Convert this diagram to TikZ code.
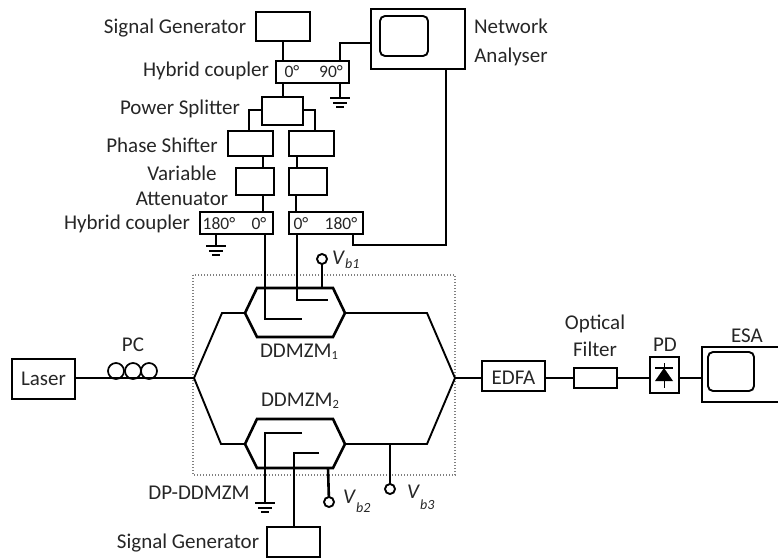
\documentclass[tikz,border=0pt]{standalone}
\usepackage{fontspec}
\usepackage{xcolor}
\usetikzlibrary{calc,positioning}
\setmainfont{Carlito}
\definecolor{dmInk}{HTML}{262626}
\newcommand{\vbias}[2]{\textit{V}\raisebox{#1}{\fontsize{14}{14}\selectfont\textit{#2}}}
\newcommand{\sbnum}[1]{\raisebox{-2.5pt}{\fontsize{12.5}{12.5}\selectfont #1}}
\tikzset{
  lbl/.style={text=dmInk, font=\fontsize{21}{24}\selectfont, inner sep=0pt},
  deg/.style={text=dmInk, font=\fontsize{17.5}{20}\selectfont, inner sep=0pt},
  devbox/.style={draw=black, line width=1.9pt, fill=white, inner sep=0pt, outer sep=0pt},
  wire/.style={draw=black, line width=2.6pt, line join=miter},
  thinwire/.style={draw=black, line width=1.7pt, line join=miter},
  port/.style={circle, draw=black, line width=1.9pt, fill=white, minimum size=10pt, inner sep=0pt, outer sep=0pt},
  gnd/.pic={
    \draw[line width=1.7pt] (-10,0) -- (10,0);
    \draw[line width=1.7pt] (-7,5) -- (7,5);
    \draw[line width=1.7pt] (-4,9) -- (4,9);
  }
}

\begin{document}
\begin{tikzpicture}[x=1pt,y=-1pt]
  \useasboundingbox (0,0) rectangle (778,559);
  % enclosure of the dual-parallel modulator
  \draw[dash pattern=on 1.2pt off 1.8pt, line width=1.2pt, draw=black!50] (193,275) rectangle (455,475);
  % boxes
  \foreach \n/\x/\y/\w/\h in {
    sgtop/283/26.5/54/29,
    hybtop/312.5/72/73/22,
    split/282.5/111/41/28,
    phsL/250.5/143.5/45/25,
    phsR/311.5/143.5/45/25,
    attL/255/181.5/38/27,
    attR/308/181.5/38/27,
    hybL/236.5/223/73/22,
    hybR/326/223/74/22,
    sgbot/293.5/542/53/30,
    na/418/39/94/60,
    laser/43.5/379/63/40,
    edfa/513.5/376/63/30,
    ofil/595.5/378/43/20,
    pd/664.5/375/29/36
  } {
    \node[devbox, minimum width=\w pt, minimum height=\h pt] (\n) at (\x,\y) {};
  }
  % screens of the two analysers
  \node[devbox, rounded corners=5pt, minimum width=48pt, minimum height=40pt] (nascr) at (404,36) {};
  % ESA runs off the right edge
  \coordinate (esa) at (702,378);
  \draw[line width=1.9pt] (778,347) -- (702,347) -- (702,402) -- (778,402);
  \node[devbox, rounded corners=5pt, minimum width=46pt, minimum height=39pt] (esascr) at (731,371.5) {};
  % electrical connections, upper part
  \draw[wire] (sgtop.south -| 283,0) -- (hybtop.north -| 283,0);
  \draw[thinwire] (hybtop.south -| 283,0) -- (split.north -| 283,0);
  \draw[wire] (na.west |- 0,43) -| (hybtop.north -| 340,0);
  \draw[wire] (hybtop.south -| 340,0) -- ++(0,15) coordinate (gndA);
  \pic at (gndA) {gnd};
  \draw[wire] (split.west |- 0,110) -| (phsL.north -| 249,0);
  \draw[wire] (split.east |- 0,110) -| (phsR.north -| 315,0);
  \draw[wire] (phsL.south -| 263,0) -- (attL.north -| 263,0);
  \draw[wire] (phsR.south -| 297,0) -- (attR.north -| 297,0);
  \draw[wire] (attL.south -| 263,0) -- (hybL.north -| 263,0);
  \draw[wire] (attR.south -| 296,0) -- (hybR.north -| 296,0);
  \draw[wire] (hybL.south -| 216,0) -- ++(0,12) coordinate (gndB);
  \pic at (gndB) {gnd};
  \draw[wire] (hybR.south -| 353,0) |- (446,245) -- (na.south -| 446,0);
  % arms and modulators
  \coordinate (inS) at (194,378);
  \coordinate (outS) at (455,378);
  \foreach \n/\y/\k in {m1/313/222,m2/444/221} {
    \draw[line width=2.6pt, line join=miter] (245,\y) coordinate (\n w) -- (257,\y-25) -- (333,\y-25)
      -- (345,\y) coordinate (\n e) -- (333,\y+24) -- (257,\y+24) -- cycle;
    \draw[line width=1.9pt, line join=miter] (inS) -- (\k,\y) -- (\n w);
    \draw[line width=1.9pt, line join=miter] (\n e) -- (427,\y) -- (outS);
  }
  % drives into the modulators
  \draw[wire] (hybL.south -| 265,0) |- (302,319);
  \draw[wire] (hybR.south -| 297,0) |- (328,300);
  \draw[wire] (302,433) -| (265,503) coordinate (gndC);
  \pic at (gndC) {gnd};
  \draw[wire] (319,453) -| (sgbot.north -| 294,0);
  % bias points
  \node[port] (vb1) at (322,259) {};
  \node[port] (vb2) at (329,502) {};
  \node[port] (vb3) at (390,489) {};
  \draw[wire] (vb1) -- (322,288);
  \draw[wire] (328,468) -- (vb2);
  \draw[wire] (390,444) -- (vb3);
  % optical path
  \draw[line width=1.9pt] (laser.east |- inS) -- (inS);
  \foreach \n/\x in {pca/116,pcb/133,pcc/149} {
    \node[circle, draw=black, line width=1.7pt, minimum size=16pt, inner sep=0pt] (\n) at (\x,371) {};
  }
  \draw[line width=1.9pt] (outS) -- (edfa.west |- outS);
  \draw[wire] (edfa.east |- outS) -- (ofil.west |- outS);
  \draw[wire] (ofil.east |- outS) -- (pd.west |- outS);
  \draw[wire] (pd.east |- outS) -- (esa);
  % photodiode
  \draw[line width=1.9pt] (pd.center |- 0,363) -- (pd.center |- 0,388);
  \draw[line width=1.9pt] (655,368) -- (673,368);
  \fill (664,368) -- (673,381) -- (655,381) -- cycle;
  % labels
  \foreach \n/\x/\y/\t in {
    tSgTop/175/28/{Signal Generator},
    tHybTop/206/71/{Hybrid coupler},
    tSplit/180/109/{Power Splitter},
    tPhs/162/145/{Phase Shifter},
    tVar/182/173/{Variable},
    tAtt/182/199/{Attenuator},
    tHybL/127/224/{Hybrid coupler},
    tNet/511/26/{Network},
    tAna/511/57/{Analyser},
    tM1/299/352/{DDMZM\sbnum{1}},
    tM2/300/401/{DDMZM\sbnum{2}},
    tDp/199/493/{DP-DDMZM},
    tSgBot/188/543/{Signal Generator},
    tLaser/43.5/379/{Laser},
    tPc/133/345/{PC},
    tEdfa/513.5/378/{EDFA},
    tOpt/595/324/{Optical},
    tFil/595/349/{Filter},
    tPd/665/345/{PD},
    tEsa/747/336/{ESA}
  } {
    \node[lbl] (\n) at (\x,\y) {\t};
  }
  \foreach \n/\x/\y/\t in {
    dA/292/72/{0°}, dB/331/72/{90°},
    dC/219/224/{180°}, dD/259/224/{0°},
    dE/301/224/{0°}, dF/341/224/{180°}
  } {
    \node[deg] (\n) at (\x,\y) {\t};
  }
  \node[lbl, anchor=west] (tVb1) at (332,260) {\vbias{-4pt}{b1}};
  \node[lbl, anchor=west] (tVb2) at (343,501) {\vbias{-9pt}{b2}};
  \node[lbl, anchor=west] (tVb3) at (407,497) {\vbias{-11pt}{b3}};
\end{tikzpicture}
\end{document}
